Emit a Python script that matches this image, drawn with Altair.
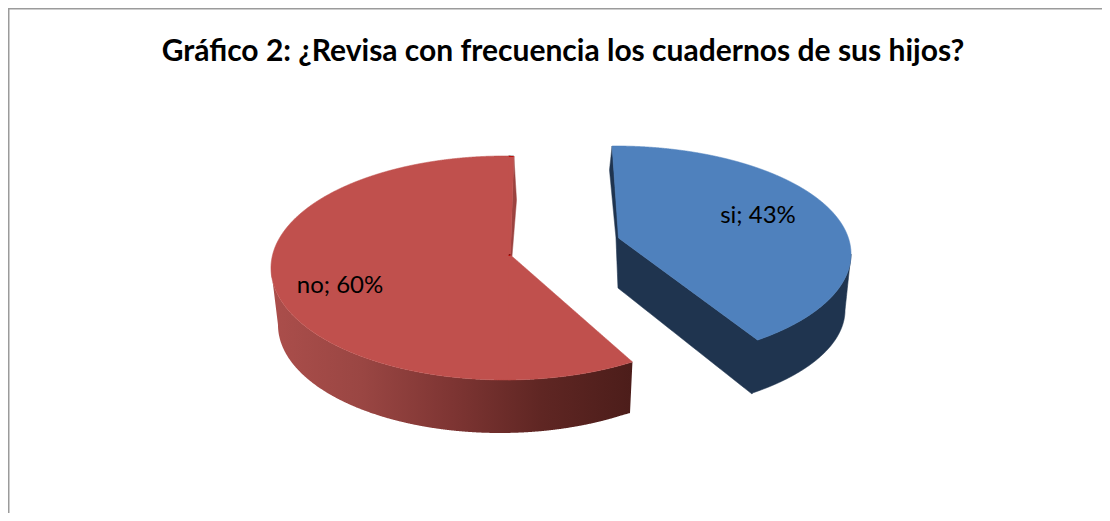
import numpy as np
import pandas as pd
import altair as alt

TITLE = "Gráfico 2: ¿Revisa con frecuencia los cuadernos de sus hijos?"
categories = ["si", "no"]
shares = [43, 60]
colors = {"si": "#4F81BD", "no": "#C0504D"}
WALL_BLUE = "#1F344F"
WALL_RED_INNER = "#9C4340"
FRAME = "#9B9B9B"

W, H = 1094, 505  # drawing area; page offset is 8 px
X = alt.Scale(domain=[8, 8 + W], range=[0, W])
Y = alt.Scale(domain=[8, 8 + H], range=[0, H])


def ell(cx, cy, rx, ry, a0, a1, n=240):
    a = np.radians(np.linspace(a0, a1, n))
    return np.column_stack([cx + rx * np.sin(a), cy - ry * np.cos(a)])


def band(upper, lower, n=500, hi=None):
    upper = np.array(upper, float)
    lower = np.array(lower, float)
    upper = upper[np.argsort(upper[:, 0], kind="stable")]
    lower = lower[np.argsort(lower[:, 0], kind="stable")]
    lo = max(upper[0, 0], lower[0, 0])
    top = min(upper[-1, 0], lower[-1, 0])
    if hi is not None:
        top = min(top, hi)
    xs = np.unique(np.r_[np.linspace(lo, top, n), upper[:, 0], lower[:, 0]])
    xs = xs[(xs >= lo) & (xs <= top)]
    return pd.DataFrame({
        "x": xs,
        "y": np.interp(xs, upper[:, 0], upper[:, 1]),
        "y2": np.interp(xs, lower[:, 0], lower[:, 1]),
    })


def area(df, fill, sw=0.6):
    stroke = fill if isinstance(fill, str) else None
    kw = {"stroke": stroke, "strokeWidth": sw} if stroke else {}
    return alt.Chart(df).mark_area(color=fill, opacity=1, interpolate="linear", **kw).encode(
        x=alt.X("x:Q", scale=X, axis=None),
        y=alt.Y("y:Q", scale=Y, axis=None),
        y2="y2:Q",
    )


total = sum(shares)
sweep = {c: 360 * s / total for c, s in zip(categories, shares)}

# ---- red slice ("no")
R_TOP = (505, 268, 234, 112)
R_BOT = (500, 325, 222, 108)
r_a0 = 147.0
r_a1 = r_a0 + sweep["no"] * 1.026
r_apex = np.array([510.5, 255.0])
r_back = r_apex - [2.0, 0.0]             # overlap point, inside the face, closes the seam
r_left = ell(*R_TOP, 270, r_a1)          # upper arc, left extreme -> start point
r_low = ell(*R_TOP, r_a0, 270)           # lower arc, end point -> left extreme
r_bot = ell(*R_BOT, r_a0, 270)
r_start, r_end = r_left[-1], r_low[0]

r_end_b = np.array([630.0, 413.0])
r_wall = band(
    r_low,
    np.vstack([[R_TOP[0] - R_TOP[2], R_TOP[1]], r_bot[r_bot[:, 0] < r_end_b[0]], r_end_b, r_end]),
)
red_grad = alt.LinearGradient(
    gradient="linear", x1=0, x2=1, y1=0, y2=0,
    stops=[
        alt.GradientStop(offset=0.0, color="#AB4E4B"),
        alt.GradientStop(offset=0.25, color="#9A4643"),
        alt.GradientStop(offset=0.5, color="#7E3533"),
        alt.GradientStop(offset=0.75, color="#5F2623"),
        alt.GradientStop(offset=1.0, color="#4C1D1A"),
    ],
)
r_sliver = band(
    [r_apex, r_start, [516.5, 200]],
    [r_apex, [512, 256], [516.5, 200]],
)
r_face_left = band(r_left, r_low, hi=r_apex[0])
r_face_right = band([r_back, r_apex, r_end], r_low)
r_face_top = band(r_left, [r_back, r_apex, r_start])

# ---- blue slice ("si")
B_TOP = (615, 254, 236, 108)
B_BOT = (612, 310, 233, 104)
b_a0 = -0.7
b_a1 = b_a0 + sweep["si"] * 0.955
b_apex = np.array([618.5, 238.0])
b_up = ell(*B_TOP, b_a0, 90)
b_low = ell(*B_TOP, 90, b_a1)
b_start, b_end = b_up[0], b_low[-1]
b_bot = ell(*B_BOT, 90, b_a1)
b_end_b = np.array([752.0, 394.0])

b_face = band(b_up, np.vstack([b_start, b_apex, b_end, b_low]))
b_wall = band(
    np.vstack([[616, 238], b_apex, b_end, b_low]),
    np.vstack([[616, 238], [618, 288], b_end_b, b_bot[b_bot[:, 0] > b_end_b[0]], b_low[0]]),
)
b_sliver = band(
    [[609.5, 170], b_start, [619, 240]],
    [[609.5, 170], [616, 238], [619, 240]],
)


def text(t, x, y, size, bold=False):
    df = pd.DataFrame({"x": [x], "y": [y], "t": [t]})
    return alt.Chart(df).mark_text(
        font="Lato", fontSize=size, fontWeight="bold" if bold else "normal",
        color="#000000", align="center", baseline="middle",
    ).encode(
        x=alt.X("x:Q", scale=X, axis=None),
        y=alt.Y("y:Q", scale=Y, axis=None),
        text="t:N",
    )


frame_l = alt.Chart(pd.DataFrame({"x": [8.7]})).mark_rule(color=FRAME, strokeWidth=1.6).encode(
    x=alt.X("x:Q", scale=X, axis=None))
frame_t = alt.Chart(pd.DataFrame({"y": [8.7]})).mark_rule(color=FRAME, strokeWidth=1.6).encode(
    y=alt.Y("y:Q", scale=Y, axis=None))

labels = [f"{c}; {s}%" for c, s in zip(categories, shares)]

chart = alt.layer(
    frame_l, frame_t,
    area(r_wall, red_grad),
    area(r_sliver, WALL_RED_INNER),
    area(r_face_left, colors["no"]),
    area(r_face_right, colors["no"]),
    area(r_face_top, colors["no"]),
    area(b_sliver, WALL_BLUE),
    area(b_wall, WALL_BLUE),
    area(b_face, colors["si"]),
    text(TITLE, 563, 52, 30, bold=True),
    text(labels[0], 758, 216, 24),
    text(labels[1], 340, 286, 24),
).properties(
    width=W, height=H, padding=0, autosize=alt.AutoSizeParams(type="none"),
    background="white",
).configure_view(stroke=None)

chart.save("out.html", embed_options={"renderer": "svg", "actions": False})
